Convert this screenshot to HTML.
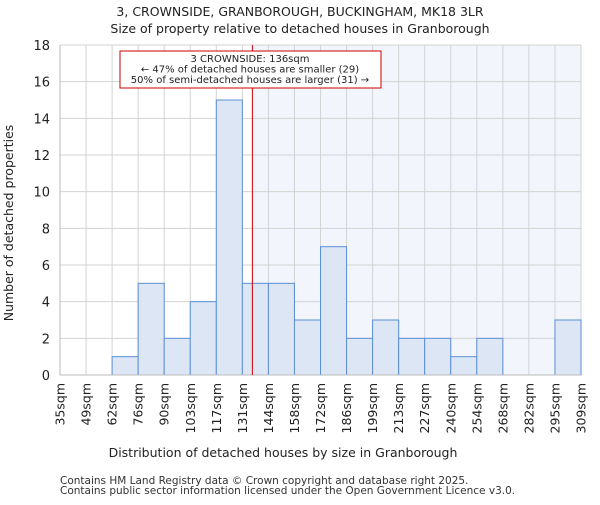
<!DOCTYPE html>
<html><head><meta charset="utf-8"><style>
body{margin:0;background:#fff}
svg{font-family:"DejaVu Sans","Liberation Sans",sans-serif}
</style></head><body>
<svg id="c" width="600" height="500" viewBox="0 0 600 500">
<text x="300" y="16" text-anchor="middle" font-size="12.5" fill="#222">3, CROWNSIDE, GRANBOROUGH, BUCKINGHAM, MK18 3LR</text>
<text x="300" y="33" text-anchor="middle" font-size="12.5" fill="#222">Size of property relative to detached houses in Granborough</text>
<g id="plot"></g>
<text x="283" y="457" text-anchor="middle" font-size="12.5" fill="#222">Distribution of detached houses by size in Granborough</text>
<text transform="translate(13,223) rotate(-90)" text-anchor="middle" font-size="12.5" fill="#222">Number of detached properties</text>
<text x="60" y="484" font-size="10.5" fill="#333">Contains HM Land Registry data © Crown copyright and database right 2025.</text>
<text x="60" y="494" font-size="10.5" fill="#333">Contains public sector information licensed under the Open Government Licence v3.0.</text>
</svg>
<script>
const binEdges=[35,49,62,76,90,103,117,131,144,158,172,186,199,213,227,240,254,268,282,295,309];
const counts=[0,0,1,5,2,4,15,5,5,3,7,2,3,2,2,1,2,0,0,3];
const yTicks=[0,2,4,6,8,10,12,14,16,18];
const marker=136;
const L=60,R=581,T=45,B=375,yMax=18;
const ns="http://www.w3.org/2000/svg";
const g=document.getElementById('plot');
function xi(i){return L+(R-L)*i/(binEdges.length-1);}
function xv(v){for(let i=0;i<binEdges.length-1;i++){if(v<=binEdges[i+1])return xi(i)+(v-binEdges[i])/(binEdges[i+1]-binEdges[i])*(xi(i+1)-xi(i));}return R;}
function y(v){return B-(B-T)*v/yMax;}
function mk(t,a){const e=document.createElementNS(ns,t);for(const k in a)e.setAttribute(k,a[k]);g.appendChild(e);return e;}
const mx=xv(marker);
let e=mk('rect',{x:mx,y:T,width:R-mx,height:B-T,fill:'#f2f5fc'});


yTicks.forEach(t=>{
 let l=mk('line',{x1:L,x2:R,y1:y(t),y2:y(t),stroke:'#d3d3d3','stroke-width':1});
 
 
 let tx=mk('text',{x:L-10,y:y(t)+5,'text-anchor':'end','font-size':13,fill:'#222'});
 tx.textContent=t;
 
 
});
binEdges.forEach((b,i)=>{
 let l=mk('line',{x1:xi(i),x2:xi(i),y1:T,y2:B,stroke:'#d3d3d3','stroke-width':1});
 
 
 let tx=mk('text',{transform:`translate(${xi(i)+4.5},${B+8}) rotate(-90)`,'text-anchor':'end','font-size':12.5,fill:'#222'});
 tx.textContent=b+'sqm';
 
 
});
counts.forEach((c,i)=>{
 if(c<=0)return;
 let r=mk('rect',{x:xi(i),y:y(c),width:xi(i+1)-xi(i),height:B-y(c),fill:'#dce6f5',stroke:'#5b8fd6','stroke-width':1});
 
 
});
e=mk('line',{x1:L,x2:L,y1:T,y2:B,stroke:'#bbb'});


e=mk('line',{x1:L,x2:R,y1:B,y2:B,stroke:'#bbb'});


e=mk('line',{x1:mx,x2:mx,y1:T,y2:B,stroke:'#cc0000','stroke-width':1});


e=mk('rect',{x:120,y:51,width:261,height:37,fill:'#fff',stroke:'#cc0000','stroke-width':1});


const ann=['3 CROWNSIDE: 136sqm','← 47% of detached houses are smaller (29)','50% of semi-detached houses are larger (31) →'];
ann.forEach((s,i)=>{
 let t=mk('text',{x:250,y:62+i*10.5,'text-anchor':'middle','font-size':10,fill:'#222'});
 t.textContent=s;
 
 
});
</script>
</body></html>
